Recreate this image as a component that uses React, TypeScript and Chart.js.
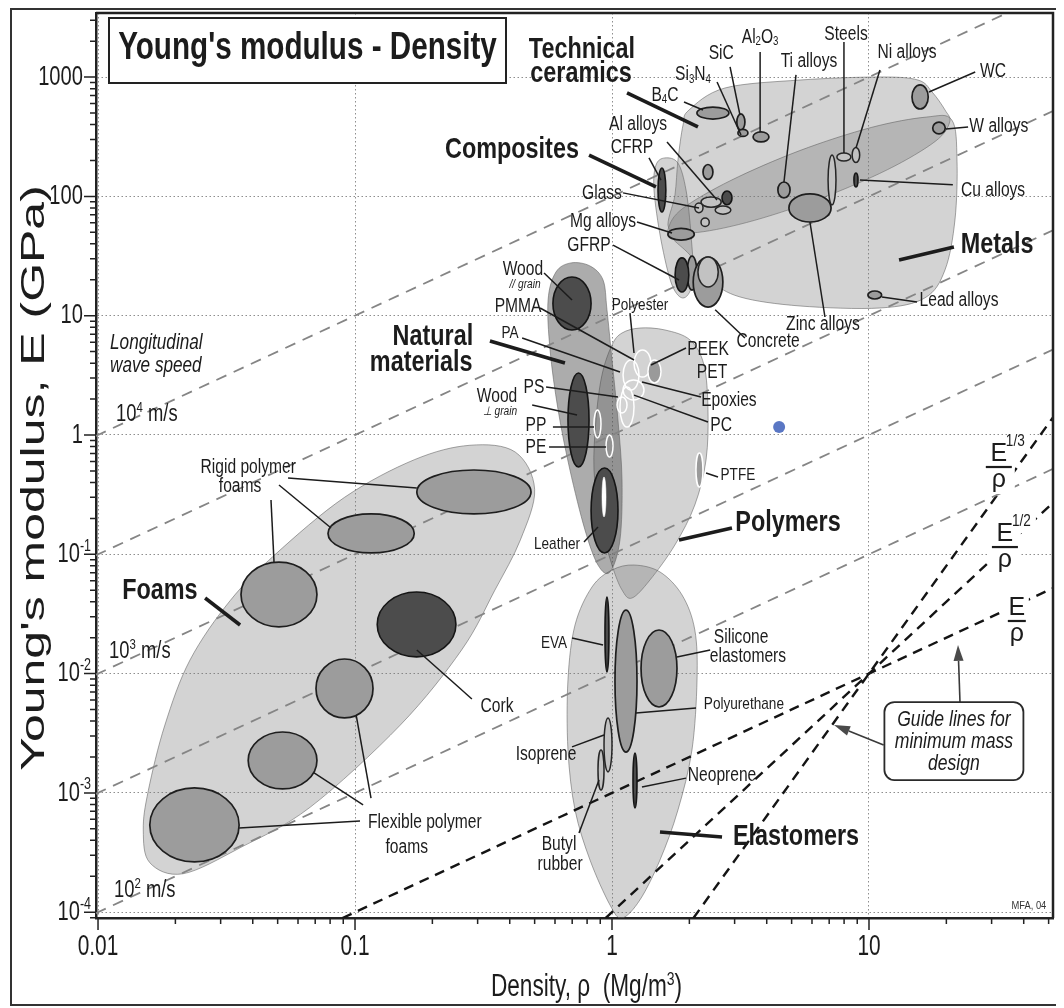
import React, { useEffect, useRef } from "react";
import { Chart, registerables } from "chart.js";

Chart.register(...registerables);

type Pt = [number, number];
type Range = [string, number, number, number, number];
type Label = [string, number, number];

// ---------- axes (density Mg/m3, modulus GPa) ----------
const densityLimits: Pt = [0.00982, 52];
const modulusLimits: Pt = [8.94e-5, 3445];
const xTickValues = [0.01, 0.1, 1, 10];
const xTickLabels = ["0.01", "0.1", "1", "10"];
const yTickValues = [1e-4, 1e-3, 1e-2, 1e-1, 1, 10, 100, 1000];
const yTickLabels = ["10^{-4}", "10^{-3}", "10^{-2}", "10^{-1}", "1", "10", "100", "1000"];

// ---------- guide lines ----------
const waveSpeedLines: Pt[][] = [
  [[0.0098, 0.98], [34.4, 3440]],
  [[0.0098, 0.098], [52, 520]],
  [[0.0098, 0.0098], [52, 52]],
  [[0.0098, 0.00098], [52, 5.2]],
  [[0.0098, 0.000098], [52, 0.52]],
];
const guideLines: Pt[][] = [
  [[0.0894, 0.0000894], [52, 0.052]],
  [[0.9455, 0.0000894], [52, 0.2704]],
  [[2.075, 0.0000894], [52, 1.406]],
];

// ---------- family envelopes ----------
const foamsEnvelope: Pt[] = [[0.5, 0.35], [0.44, 0.132], [0.35, 0.05], [0.26, 0.0158], [0.15, 0.0037], [0.067, 7.6e-4], [0.036, 3.5e-4], [0.0214, 2.1e-4], [0.0159, 2.6e-4], [0.015, 4.9e-4], [0.0157, 1.05e-3], [0.0182, 3.7e-3], [0.0228, 0.013], [0.0327, 0.041], [0.049, 0.1], [0.091, 0.3], [0.17, 0.62], [0.28, 0.82], [0.42, 0.72]];
const polymersEnvelope: Pt[] = [[1.0, 5.68], [1.094, 7.16], [1.285, 7.88], [1.607, 7.59], [2.012, 6.26], [2.28, 3.86], [2.363, 1.62], [2.322, 0.617], [2.1, 0.259], [1.758, 0.12], [1.406, 0.061], [1.196, 0.043], [1.094, 0.0502], [1.0, 0.0813], [0.898, 0.194], [0.851, 0.509], [0.866, 1.336], [0.914, 3.18]];
const elastomersEnvelope: Pt[] = [[1.218, 0.0813], [1.537, 0.0711], [1.873, 0.0456], [2.1, 0.0232], [2.142, 0.00884], [2.047, 0.00229], [1.806, 0.00072], [1.537, 0.000274], [1.285, 0.000127], [1.094, 0.0000894], [0.982, 0.000115], [0.821, 0.000274], [0.718, 0.00072], [0.674, 0.00229], [0.674, 0.00884], [0.718, 0.02555], [0.836, 0.0532], [1.0, 0.0738]];
const naturalEnvelope: Pt[] = [[0.693, 27.7], [0.821, 26.1], [0.923, 19.9], [0.956, 11.2], [1.0, 4.25], [1.055, 1.336], [1.094, 0.42], [1.074, 0.132], [0.982, 0.0711], [0.882, 0.0813], [0.785, 0.16], [0.686, 0.509], [0.617, 1.62], [0.574, 5.16], [0.564, 13.55], [0.605, 23.2]];
const ceramicsEnvelope: Pt[] = [[1.994, 530], [2.75, 810], [5.39, 945], [11.03, 1002], [15.5, 945], [17.6, 750], [19.76, 530], [20.6, 419], [18.1, 289], [11.77, 167], [6.34, 94.4], [3.34, 60.4], [2.05, 49.4], [1.66, 54.6], [1.758, 103], [1.806, 202], [1.89, 397]];
const metalsEnvelope: Pt[] = [[1.66, 54.6], [1.884, 79.2], [2.9, 136], [5.38, 242], [10.2, 378], [16.7, 462], [21.0, 437], [22.0, 202], [21.6, 63.4], [19.76, 24.2], [16.5, 14.1], [11.03, 11.6], [5.39, 12.06], [3.15, 14.35], [2.41, 19.9], [2.01, 32.3], [1.712, 44.8]];
const compositesEnvelope: Pt[] = [[1.607, 210], [1.806, 190], [1.941, 113], [2.03, 47.5], [2.066, 19.9], [1.906, 14.1], [1.712, 18.1], [1.551, 43.1], [1.457, 113], [1.483, 183]];

const envelopes: [string, Pt[]][] = [
  ["Foams", foamsEnvelope],
  ["Polymers", polymersEnvelope],
  ["Elastomers", elastomersEnvelope],
  ["Natural materials", naturalEnvelope],
  ["Technical ceramics", ceramicsEnvelope],
  ["Metals", metalsEnvelope],
  ["Composites", compositesEnvelope],
];

// ---------- material property ranges [name, rho lo, rho hi, E lo, E hi] ----------
const midBubbles: Range[] = [
  ["Rigid foam A", 0.174, 0.484, 0.218, 0.509],
  ["Rigid foam B", 0.0785, 0.17, 0.1026, 0.218],
  ["Rigid foam C", 0.036, 0.0711, 0.0246, 0.0861],
  ["Flexible foam A", 0.0705, 0.1175, 0.00425, 0.01325],
  ["Flexible foam B", 0.0384, 0.0711, 0.00108, 0.00324],
  ["Flexible foam C", 0.0159, 0.0354, 0.000264, 0.0011],
  ["WC", 14.7, 17.0, 540, 860],
  ["W alloys", 17.7, 19.8, 334, 420],
  ["B4C", 2.14, 2.85, 445, 561],
  ["SiC", 3.06, 3.29, 360, 491],
  ["Si3N4", 3.09, 3.38, 318, 364],
  ["Al2O3", 3.54, 4.08, 286, 347],
  ["Ti alloys", 4.42, 4.93, 97, 132],
  ["Zinc alloys", 4.88, 7.12, 61, 105],
  ["Glass ceramic", 2.26, 2.47, 139, 185],
  ["Mg alloys", 1.65, 2.09, 43, 54],
  ["GFRP woven", 1.96, 2.14, 16.4, 31.6],
  ["Concrete", 2.07, 2.7, 11.8, 31],
  ["Lead alloys", 9.9, 11.2, 13.8, 16.1],
  ["Polyurethane", 1.027, 1.251, 0.0022, 0.0341],
  ["Silicone elastomers", 1.297, 1.79, 0.00525, 0.0232],
];
const lightBubbles: Range[] = [
  ["Steels", 7.5, 8.5, 198, 231],
  ["Ni alloys", 8.6, 9.2, 192, 257],
  ["Stainless", 6.93, 7.44, 85, 222],
  ["Al alloys", 2.22, 2.66, 81, 99],
  ["Al alloys cast", 2.52, 2.9, 71, 83],
  ["Glass", 2.1, 2.26, 73, 88],
  ["Silica glass", 2.22, 2.39, 56, 66],
  ["Concrete core", 2.16, 2.59, 17.4, 31],
  ["Isoprene", 0.931, 1.0, 0.0015, 0.00425],
  ["Butyl rubber", 0.882, 0.931, 0.001057, 0.00229],
];
const darkBubbles: Range[] = [
  ["Cork", 0.122, 0.247, 0.0138, 0.0483],
  ["Cu alloys", 8.74, 9.06, 120, 157],
  ["CFRP", 2.68, 2.93, 85, 111],
  ["CFRP laminate", 1.51, 1.62, 74, 173],
  ["GFRP", 1.76, 1.99, 15.8, 30.5],
  ["Wood parallel", 0.589, 0.829, 7.59, 21.1],
  ["Wood perpendicular", 0.674, 0.814, 0.539, 3.31],
  ["Leather", 0.829, 1.055, 0.1026, 0.529],
  ["EVA", 0.939, 0.973, 0.0103, 0.0439],
  ["Neoprene", 1.207, 1.251, 0.000747, 0.00216],
];
const polymerOutlines: Range[] = [
  ["PP", 0.851, 0.906, 0.944, 1.62],
  ["PE", 0.948, 1.009, 0.654, 1.0],
  ["PS", 1.074, 1.218, 1.167, 2.52],
  ["PC", 1.104, 1.274, 2.38, 4.25],
  ["PET", 1.218, 1.418, 3.06, 5.16],
  ["PA", 1.046, 1.144, 1.53, 2.08],
  ["Epoxies", 1.104, 1.332, 1.965, 2.89],
];
const polymerFilled: Range[] = [
  ["PEEK", 1.38, 1.551, 2.73, 4.25],
  ["PTFE", 2.122, 2.259, 0.367, 0.707],
];
const leatherGrain: Range[] = [["Leather grain", 0.914, 0.948, 0.2055, 0.445]];
const scanMark: Pt[] = [[4.47, 1.167]];

// ---------- labels [text, rho, E] ----------
const categoryLabels: Label[] = [
  ["Technical", 0.764, 1687], ["ceramics", 0.758, 1062], ["Composites", 0.408, 245],
  ["Natural", 0.201, 6.63], ["materials", 0.181, 4.01], ["Foams", 0.0174, 0.0492],
  ["Metals", 31.5, 39.1], ["Polymers", 4.84, 0.183], ["Elastomers", 5.2, 0.000427],
];
const materialLabels: Label[] = [
  ["SiC", 2.66, 1563], ["Al_{2}O_{3}", 3.77, 2168], ["Steels", 8.14, 2297], ["Ti alloys", 5.84, 1340],
  ["Ni alloys", 14.06, 1623], ["WC", 30.4, 1104], ["W alloys", 32.0, 382], ["Cu alloys", 30.4, 113],
  ["Si_{3}N_{4}", 2.066, 1042], ["B_{4}C", 1.607, 707], ["Al alloys", 1.263, 397], ["CFRP", 1.196, 259],
  ["Glass", 0.914, 105], ["Mg alloys", 0.923, 62.2], ["GFRP", 0.814, 39.1], ["Lead alloys", 22.4, 13.3],
  ["Zinc alloys", 6.62, 8.36], ["Concrete", 4.05, 6.02], ["Wood", 0.45, 24.2], ["PMMA", 0.431, 12.06],
  ["Wood", 0.357, 2.12], ["PS", 0.497, 2.48], ["PP", 0.506, 1.19], ["PE", 0.506, 0.793],
  ["PEEK", 2.363, 5.16], ["PET", 2.45, 3.31], ["Epoxies", 2.85, 1.965], ["PC", 2.66, 1.19],
  ["Silicone", 3.18, 0.0199], ["elastomers", 3.38, 0.01404], ["Isoprene", 0.554, 0.00208],
  ["Neoprene", 2.68, 0.00139], ["Butyl", 0.622, 0.000373], ["rubber", 0.628, 0.000253],
  ["Cork", 0.357, 0.00525], ["Rigid polymer", 0.0384, 0.539], ["foams", 0.0357, 0.367],
  ["Flexible polymer", 0.187, 0.00056], ["foams", 0.159, 0.000352],
];
const smallLabels: Label[] = [
  ["Polyester", 1.285, 12.3], ["PA", 0.401, 7.16], ["PTFE", 3.09, 0.462], ["Leather", 0.611, 0.122],
  ["EVA", 0.595, 0.01805], ["Polyurethane", 3.26, 0.00556],
];
const grainLabels: Label[] = [["// grain", 0.459, 18.1], ["\u22A5 grain", 0.367, 1.56]];
const waveNoteLabels: Label[] = [["Longitudinal", 0.01114, 5.9], ["wave speed", 0.01114, 3.79]];
const waveSpeedLabels: Label[] = [["10^{4} m/s", 0.01175, 1.47], ["10^{3} m/s", 0.01104, 0.0152], ["10^{2} m/s", 0.01154, 0.000151]];
const guideFractions: Label[] = [["1/3", 32.0, 0.539], ["1/2", 33.8, 0.115], ["", 37.6, 0.0276]];
const guideNoteLines = ["Guide lines for", "minimum mass", "design"];
const guideNoteAnchor: Pt = [21.4, 0.00272];
const guideArrows: Pt[][] = [[[22.6, 0.00578], [22.2, 0.01738]], [[11.4, 0.00252], [7.31, 0.00371]]];
const creditLabel: Label = ["MFA, 04", 41.9, 0.000113];

// ---------- leader lines ----------
const thinLeaders: Pt[][] = [
  [[17.12, 750], [25.9, 1104]], [[19.94, 367], [24.3, 382]], [[9.22, 137], [21.2, 125]], [[11.23, 14.35], [15.38, 13.0]],
  [[7.99, 1968], [7.99, 231]], [[11.03, 1148], [8.9, 254]], [[5.2, 1042], [4.668, 132]], [[3.77, 1623], [3.77, 347]],
  [[2.88, 1216], [3.148, 481]], [[2.563, 910], [3.177, 327]], [[1.906, 618], [2.259, 530]], [[1.637, 286], [2.563, 93.3]],
  [[1.393, 210], [1.551, 137]], [[1.104, 107], [2.181, 80]], [[1.251, 61], [1.712, 49.3]], [[1.009, 39.1], [1.823, 19.9]],
  [[2.52, 11.2], [3.29, 6.5]], [[5.891, 61], [6.74, 9.75]], [[1.175, 10.5], [1.218, 4.87]], [[0.544, 22.8], [0.699, 13.55]],
  [[0.525, 11.6], [1.218, 4.25]], [[0.447, 6.5], [1.074, 3.37]], [[0.554, 2.52], [1.055, 2.08]], [[0.489, 1.785], [0.731, 1.47]],
  [[0.589, 1.167], [0.851, 1.167]], [[0.569, 0.793], [0.948, 0.793]], [[1.218, 2.16], [2.363, 1.285]], [[1.308, 2.78], [2.22, 2.08]],
  [[1.418, 3.86], [1.941, 5.36]], [[2.322, 0.48], [2.585, 0.445]], [[0.778, 0.127], [0.882, 0.1694]],
  [[0.0549, 0.436], [0.174, 0.36]], [[0.0506, 0.381], [0.0807, 0.166]], [[0.0471, 0.285], [0.0484, 0.0862]],
  [[0.174, 0.01578], [0.285, 0.00612]], [[0.0354, 0.000508], [0.1046, 0.000581]], [[0.0693, 0.00147], [0.1075, 0.000792]],
  [[0.101, 0.0045], [0.1154, 0.000906]], [[0.699, 0.01988], [0.923, 0.01738]], [[1.79, 0.01377], [2.41, 0.01578]],
  [[1.24, 0.00468], [2.122, 0.00515]], [[0.699, 0.00243], [0.931, 0.00306]], [[1.308, 0.00112], [1.941, 0.00133]],
  [[0.744, 0.000461], [0.89, 0.00128]],
];
const thickLeaders: Pt[][] = [
  [[1.144, 736], [2.16, 382]], [[0.814, 222], [1.483, 120]], [[13.09, 29.3], [21.4, 37.7]], [[0.335, 6.14], [0.656, 4.01]],
  [[0.0261, 0.043], [0.0357, 0.02555]], [[1.823, 0.1318], [2.93, 0.166]], [[1.537, 0.00047], [2.68, 0.000427]],
];

// ---------- drawing helpers ----------
const FONT = '"Liberation Sans", Arial, Helvetica, sans-serif';
const INK = "#1c1c1c";

function toPx(chart: any, p: Pt): Pt {
  return [chart.scales.x.getPixelForValue(p[0]), chart.scales.y.getPixelForValue(p[1])];
}

function smoothClosed(ctx: CanvasRenderingContext2D, pts: Pt[]) {
  const n = pts.length;
  ctx.beginPath();
  ctx.moveTo(pts[0][0], pts[0][1]);
  for (let i = 0; i < n; i++) {
    const p0 = pts[(i - 1 + n) % n], p1 = pts[i], p2 = pts[(i + 1) % n], p3 = pts[(i + 2) % n];
    ctx.bezierCurveTo(
      p1[0] + (p2[0] - p0[0]) / 6, p1[1] + (p2[1] - p0[1]) / 6,
      p2[0] - (p3[0] - p1[0]) / 6, p2[1] - (p3[1] - p1[1]) / 6,
      p2[0], p2[1]
    );
  }
  ctx.closePath();
}

type Seg = { t: string; mode: number };
function parseRich(s: string): Seg[] {
  const out: Seg[] = [];
  let buf = "";
  let i = 0;
  while (i < s.length) {
    const c = s[i];
    if ((c === "^" || c === "_") && s[i + 1] === "{") {
      if (buf) { out.push({ t: buf, mode: 0 }); buf = ""; }
      const j = s.indexOf("}", i);
      out.push({ t: s.slice(i + 2, j), mode: c === "^" ? 1 : -1 });
      i = j + 1;
    } else { buf += c; i++; }
  }
  if (buf) out.push({ t: buf, mode: 0 });
  return out;
}

type TextOpt = { size: number; weight?: string; italic?: boolean; align?: string; sx?: number; color?: string; base?: string };
function drawRich(ctx: CanvasRenderingContext2D, s: string, x: number, y: number, o: TextOpt) {
  const segs = parseRich(s);
  const sx = o.sx ?? 0.78;
  const base = o.base ?? "middle";
  const font = (sz: number) => `${o.italic ? "italic " : ""}${o.weight ?? "normal"} ${sz}px ${FONT}`;
  let w = 0;
  const widths = segs.map((sg) => {
    ctx.font = font(sg.mode ? o.size * 0.62 : o.size);
    const m = ctx.measureText(sg.t).width;
    w += m;
    return m;
  });
  let cx = o.align === "left" ? 0 : o.align === "right" ? -w : -w / 2;
  ctx.save();
  ctx.translate(x, y);
  ctx.scale(sx, 1);
  ctx.fillStyle = o.color ?? INK;
  ctx.textBaseline = base as CanvasTextBaseline;
  ctx.textAlign = "left";
  segs.forEach((sg, k) => {
    ctx.font = font(sg.mode ? o.size * 0.62 : o.size);
    const up = base === "middle" ? 0.3 : 0.36;
    const dy = sg.mode === 1 ? -o.size * up : sg.mode === -1 ? o.size * 0.25 : 0;
    ctx.fillText(sg.t, cx, dy);
    cx += widths[k];
  });
  ctx.restore();
}

function drawBubbles(ctx: CanvasRenderingContext2D, chart: any, list: Range[], fill: string, stroke: string, lw: number) {
  for (const [, x0, x1, y0, y1] of list) {
    const [ax, ay] = toPx(chart, [x0, y1]);
    const [bx, by] = toPx(chart, [x1, y0]);
    ctx.beginPath();
    ctx.ellipse((ax + bx) / 2, (ay + by) / 2, Math.max(0.5, Math.abs(bx - ax) / 2), Math.max(0.5, Math.abs(by - ay) / 2), 0, 0, Math.PI * 2);
    if (fill !== "none") { ctx.fillStyle = fill; ctx.fill(); }
    ctx.lineWidth = lw;
    ctx.strokeStyle = stroke;
    ctx.stroke();
  }
}

function drawSegments(ctx: CanvasRenderingContext2D, chart: any, list: Pt[][], lw: number) {
  ctx.strokeStyle = INK;
  ctx.lineWidth = lw;
  ctx.lineCap = "butt";
  for (const seg of list) {
    const a = toPx(chart, seg[0]);
    const b = toPx(chart, seg[1]);
    ctx.beginPath();
    ctx.moveTo(a[0], a[1]);
    ctx.lineTo(b[0], b[1]);
    ctx.stroke();
  }
}

function minorValues(lo: number, hi: number) {
  const out: { v: number; major: boolean }[] = [];
  for (let e = -6; e <= 4; e++) {
    for (let m = 1; m <= 9; m++) {
      const v = m * Math.pow(10, e);
      if (v >= lo && v <= hi) out.push({ v, major: m === 1 });
    }
  }
  return out;
}

const ashbyPlugin = {
  id: "ashby",
  beforeDatasetsDraw(chart: any) {
    const ctx: CanvasRenderingContext2D = chart.ctx;
    const a = chart.chartArea;
    ctx.save();
    ctx.beginPath();
    ctx.rect(a.left, a.top, a.right - a.left, a.bottom - a.top);
    ctx.clip();
    for (const [name, pts] of envelopes) {
      smoothClosed(ctx, pts.map((q) => toPx(chart, q)));
      ctx.fillStyle = name === "Natural materials" ? "rgba(70,70,70,0.45)" : "rgba(118,118,118,0.32)";
      ctx.fill();
      ctx.lineWidth = 1;
      ctx.strokeStyle = "rgba(95,95,95,0.55)";
      ctx.stroke();
    }
    ctx.restore();
  },
  afterDatasetsDraw(chart: any) {
    const ctx: CanvasRenderingContext2D = chart.ctx;
    const a = chart.chartArea;
    ctx.save();
    ctx.beginPath();
    ctx.rect(a.left, a.top, a.right - a.left, a.bottom - a.top);
    ctx.clip();
    drawBubbles(ctx, chart, midBubbles, "#9c9c9c", "#1e1e1e", 1.7);
    drawBubbles(ctx, chart, lightBubbles, "#c2c2c2", "#262626", 1.5);
    drawBubbles(ctx, chart, darkBubbles, "#4c4c4c", "#151515", 1.6);
    drawBubbles(ctx, chart, polymerOutlines, "none", "#ffffff", 1.5);
    drawBubbles(ctx, chart, polymerFilled, "#9a9a9a", "#ffffff", 1.5);
    drawBubbles(ctx, chart, leatherGrain, "#ffffff", "#ffffff", 0.5);

    drawSegments(ctx, chart, thinLeaders, 1.5);
    drawSegments(ctx, chart, thickLeaders, 3.6);

    for (const [t, x, y] of categoryLabels) {
      const p = toPx(chart, [x, y]);
      drawRich(ctx, t, p[0], p[1], { size: 30, weight: "bold", sx: 0.78 });
    }
    for (const [t, x, y] of materialLabels) {
      const p = toPx(chart, [x, y]);
      drawRich(ctx, t, p[0], p[1], { size: 20, sx: 0.78 });
    }
    for (const [t, x, y] of smallLabels) {
      const p = toPx(chart, [x, y]);
      drawRich(ctx, t, p[0], p[1], { size: 17, sx: 0.8 });
    }
    for (const [t, x, y] of grainLabels) {
      const p = toPx(chart, [x, y]);
      drawRich(ctx, t, p[0], p[1], { size: 12, italic: true, sx: 0.85 });
    }
    for (const [t, x, y] of waveNoteLabels) {
      const p = toPx(chart, [x, y]);
      drawRich(ctx, t, p[0], p[1], { size: 22, italic: true, sx: 0.78, align: "left" });
    }
    for (const [t, x, y] of waveSpeedLabels) {
      const p = toPx(chart, [x, y]);
      drawRich(ctx, t, p[0], p[1], { size: 23, sx: 0.8, align: "left" });
    }

    // guide-line fractions
    for (const [exp, x, y] of guideFractions) {
      const [bx, by] = toPx(chart, [x, y]);
      const half = exp ? 13 : 9;
      ctx.fillStyle = "#ffffff";
      ctx.fillRect(bx - half - 3, by - 30, 2 * half + 6, 57);
      if (exp) ctx.fillRect(bx + half - 2, by - 36, 20, 22);
      ctx.strokeStyle = INK;
      ctx.lineWidth = 2.2;
      ctx.beginPath();
      ctx.moveTo(bx - half, by);
      ctx.lineTo(bx + half, by);
      ctx.stroke();
      drawRich(ctx, "E", bx, by - 13, { size: 25, sx: 1 });
      if (exp) drawRich(ctx, exp, bx + 7, by - 25, { size: 16, sx: 0.85, align: "left" });
      drawRich(ctx, "\u03C1", bx, by + 13, { size: 25, sx: 1 });
    }

    // guide-line note and arrows
    ctx.strokeStyle = "#3a3a3a";
    ctx.lineWidth = 1.6;
    for (const arr of guideArrows) {
      const s = toPx(chart, arr[0]);
      const e = toPx(chart, arr[1]);
      const ang = Math.atan2(e[1] - s[1], e[0] - s[0]);
      const L = 16, W = 5;
      const bxp = e[0] - L * Math.cos(ang), byp = e[1] - L * Math.sin(ang);
      ctx.beginPath();
      ctx.moveTo(s[0], s[1]);
      ctx.lineTo(bxp, byp);
      ctx.stroke();
      ctx.fillStyle = "#4a4a4a";
      ctx.beginPath();
      ctx.moveTo(e[0], e[1]);
      ctx.lineTo(bxp + W * Math.sin(ang), byp - W * Math.cos(ang));
      ctx.lineTo(bxp - W * Math.sin(ang), byp + W * Math.cos(ang));
      ctx.closePath();
      ctx.fill();
    }
    const [nx, ny] = toPx(chart, guideNoteAnchor);
    const bw = 139, bh = 78;
    ctx.beginPath();
    ctx.roundRect(nx - bw / 2, ny - bh / 2, bw, bh, 10);
    ctx.fillStyle = "#ffffff";
    ctx.fill();
    ctx.lineWidth = 1.8;
    ctx.strokeStyle = "#2a2a2a";
    ctx.stroke();
    guideNoteLines.forEach((t, i) => {
      drawRich(ctx, t, nx, ny - 21 + i * 22, { size: 22, italic: true, sx: 0.8 });
    });
    const cp = toPx(chart, [creditLabel[1], creditLabel[2]]);
    drawRich(ctx, creditLabel[0], cp[0], cp[1], { size: 11, sx: 0.85, color: "#333" });
    ctx.restore();
  },
  afterDraw(chart: any) {
    const ctx: CanvasRenderingContext2D = chart.ctx;
    const a = chart.chartArea;
    const xs = chart.scales.x, ys = chart.scales.y;
    ctx.save();
    // top / right frame
    ctx.strokeStyle = "#222";
    ctx.lineWidth = 2.5;
    ctx.beginPath();
    ctx.moveTo(a.left, a.top);
    ctx.lineTo(a.right, a.top);
    ctx.lineTo(a.right, a.bottom);
    ctx.stroke();
    // tick marks
    ctx.lineWidth = 1.5;
    ctx.beginPath();
    for (const t of minorValues(densityLimits[0], densityLimits[1])) {
      const X = xs.getPixelForValue(t.v);
      ctx.moveTo(X, a.bottom);
      ctx.lineTo(X, a.bottom + (t.major ? 12 : 6));
    }
    for (const t of minorValues(modulusLimits[0], modulusLimits[1])) {
      const Y = ys.getPixelForValue(t.v);
      ctx.moveTo(a.left, Y);
      ctx.lineTo(a.left - (t.major ? 12 : 6), Y);
    }
    ctx.stroke();
    // tick labels
    xTickValues.forEach((v, i) => {
      drawRich(ctx, xTickLabels[i], xs.getPixelForValue(v), a.bottom + 29, { size: 29, sx: 0.72 });
    });
    yTickValues.forEach((v, i) => {
      const lab = yTickLabels[i];
      const sup = lab.indexOf("^") >= 0;
      drawRich(ctx, lab, sup ? a.left - 5 : a.left - 13, ys.getPixelForValue(v), { size: 28, sx: 0.72, align: "right" });
    });
    // axis titles
    drawRich(ctx, "Density, \u03C1  (Mg/m^{3})", (a.left + a.right) / 2 + 12, 996, { size: 31, sx: 0.73, base: "alphabetic" });
    ctx.save();
    ctx.translate(44, 478);
    ctx.rotate(-Math.PI / 2);
    ctx.scale(1.47, 1);
    ctx.font = `normal 34px ${FONT}`;
    ctx.fillStyle = INK;
    ctx.textAlign = "center";
    ctx.textBaseline = "alphabetic";
    ctx.fillText("Young's modulus, E (GPa)", 0, 0);
    ctx.restore();
    // title box
    ctx.fillStyle = "#ffffff";
    ctx.fillRect(109, 18, 397, 65);
    ctx.strokeStyle = "#222";
    ctx.lineWidth = 2;
    ctx.strokeRect(109, 18, 397, 65);
    drawRich(ctx, "Young's modulus - Density", 307.5, 49, { size: 38, weight: "bold", sx: 0.78 });
    // outer frame
    ctx.strokeStyle = "#333";
    ctx.lineWidth = 2;
    ctx.beginPath();
    ctx.moveTo(1056, 9);
    ctx.lineTo(11, 9);
    ctx.lineTo(11, 1005);
    ctx.lineTo(1056, 1005);
    ctx.stroke();
    ctx.restore();
  },
};

function lineData(seg: Pt[]) {
  return seg.map(([x, y]) => ({ x, y }));
}

export default function App() {
  const ref = useRef<HTMLCanvasElement | null>(null);
  useEffect(() => {
    if (!ref.current) return;
    const datasets: any[] = [];
    waveSpeedLines.forEach((seg, i) =>
      datasets.push({
        label: `wave ${i}`, data: lineData(seg), showLine: true, pointRadius: 0,
        borderColor: "#858585", borderWidth: 1.8, borderDash: [11, 8], fill: false,
      })
    );
    guideLines.forEach((seg, i) =>
      datasets.push({
        label: `guide ${i}`, data: lineData(seg), showLine: true, pointRadius: 0,
        borderColor: "#141414", borderWidth: 2.4, borderDash: [10, 7], fill: false,
      })
    );
    datasets.push({
      label: "scan mark", data: lineData(scanMark), showLine: false, pointRadius: 6,
      backgroundColor: "rgba(72,104,190,0.9)", borderWidth: 0,
    });
    const chart = new Chart(ref.current, {
      type: "scatter",
      data: { datasets },
      options: {
        animation: false,
        responsive: false,
        devicePixelRatio: 1,
        events: [],
        layout: { padding: { left: 0, right: 11, top: 13, bottom: 0 } },
        plugins: { legend: { display: false }, tooltip: { enabled: false } },
        scales: {
          x: {
            type: "logarithmic",
            min: densityLimits[0],
            max: densityLimits[1],
            afterBuildTicks: (axis: any) => { axis.ticks = xTickValues.map((v) => ({ value: v })); },
            afterFit: (axis: any) => { axis.height = 90; },
            ticks: { display: false },
            grid: { color: "#8e8e8e", lineWidth: 1, drawTicks: false },
            border: { display: true, color: "#222", width: 2.5, dash: [1.5, 2.5] },
          },
          y: {
            type: "logarithmic",
            min: modulusLimits[0],
            max: modulusLimits[1],
            afterBuildTicks: (axis: any) => { axis.ticks = yTickValues.map((v) => ({ value: v })); },
            afterFit: (axis: any) => { axis.width = 96; },
            ticks: { display: false },
            grid: { color: "#8e8e8e", lineWidth: 1, drawTicks: false },
            border: { display: true, color: "#222", width: 2.5, dash: [1.5, 2.5] },
          },
        },
      } as any,
      plugins: [ashbyPlugin as any],
    });
    return () => chart.destroy();
  }, []);
  return (
    <canvas
      ref={ref}
      width={1064}
      height={1008}
      style={{ position: "absolute", left: 0, top: 0, width: 1064, height: 1008 }}
    />
  );
}
